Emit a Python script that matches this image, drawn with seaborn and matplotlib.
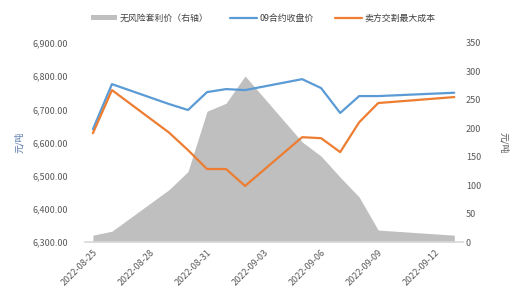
import matplotlib
matplotlib.use("Agg")
import matplotlib.pyplot as plt
from matplotlib.patches import Patch
from matplotlib.lines import Line2D
import seaborn as sns
import pandas as pd
import numpy as np

dates = ["2022-08-25", "2022-08-26", "2022-08-29", "2022-08-30", "2022-08-31",
         "2022-09-01", "2022-09-02", "2022-09-05", "2022-09-06", "2022-09-07",
         "2022-09-08", "2022-09-09", "2022-09-13"]
arb_price = [12, 19, 92, 124, 230, 244, 292, 176, 151, 114, 79, 21, 12]
close_09 = [6640, 6776, 6716, 6698, 6752, 6761, 6758, 6791, 6764, 6689, 6740, 6740, 6750]
max_cost = [6628, 6758, 6630, 6577, 6520, 6520, 6469, 6616, 6613, 6571, 6661, 6719, 6737]
tick_dates = ["2022-08-25", "2022-08-28", "2022-08-31", "2022-09-03",
              "2022-09-06", "2022-09-09", "2022-09-12"]
legend_labels = ["无风险套利价（右轴）", "09合约收盘价", "卖方交割最大成本"]

sns.set_theme(style="white")
plt.rcParams['font.family'] = ['Noto Sans CJK SC', 'DejaVu Sans']

df = pd.DataFrame({
    "date": pd.to_datetime(dates),
    "arb": arb_price,
    "close": close_09,
    "cost": max_cost,
})

fig = plt.figure(figsize=(5.29, 3.02), dpi=100)
ax = fig.add_axes([85/529, 1-242/302, (463-85)/529, (242-43)/302])
ax2 = ax.twinx()

gray = "#BFBFBF"
blue = "#5B9BD5"
orange = "#ED7D31"
tick_color = "#595959"

ax2.fill_between(df["date"], 0, df["arb"], color=gray, linewidth=0, zorder=1)
ax2.set_ylim(0, 350)
ax2.set_yticks(np.arange(0, 351, 50))

sns.lineplot(data=df, x="date", y="close", ax=ax, color=blue, linewidth=1.6)
sns.lineplot(data=df, x="date", y="cost", ax=ax, color=orange, linewidth=1.6)

ax.set_zorder(ax2.get_zorder() + 1)
ax.patch.set_visible(False)

ax.set_ylim(6300, 6900)
ax.set_yticks(np.arange(6300, 6901, 100))
ax.set_yticklabels([f"{v:,.2f}" for v in np.arange(6300, 6901, 100)])

x0 = pd.Timestamp("2022-08-25") - pd.Timedelta(hours=10)
x1 = pd.Timestamp("2022-09-13") + pd.Timedelta(hours=11)
ax.set_xlim(x0, x1)
ax.set_xticks(pd.to_datetime(tick_dates))
ax.set_xticklabels(tick_dates, rotation=45, ha="right", rotation_mode="anchor")

for a in (ax, ax2):
    for s in a.spines.values():
        s.set_visible(False)
    a.tick_params(axis="both", length=0, colors=tick_color, labelsize=6.5)
ax.spines["bottom"].set_visible(True)
ax.spines["bottom"].set_color("#D9D9D9")
ax.tick_params(axis="x", pad=4)
ax.tick_params(axis="y", pad=12)
ax2.tick_params(axis="y", pad=2)
ax.grid(False)
ax2.grid(False)

ax.set_xlabel("")
ax.set_ylabel("元/吨", fontsize=6.5, color="#5A78A8", labelpad=6)
ax2.set_ylabel("元/吨", fontsize=6.5, color=tick_color, rotation=270, labelpad=20)

handles = [Patch(facecolor=gray, edgecolor="none"),
           Line2D([0], [0], color=blue, linewidth=1.6),
           Line2D([0], [0], color=orange, linewidth=1.6)]
fig.legend(handles, legend_labels, loc="center", bbox_to_anchor=(0.497, 0.94),
           ncol=3, frameon=False, fontsize=6.4, handlelength=3.0,
           handleheight=0.6, columnspacing=2.4, handletextpad=0.3,
           labelcolor="#404040")

fig.savefig("out.png", dpi=100)
